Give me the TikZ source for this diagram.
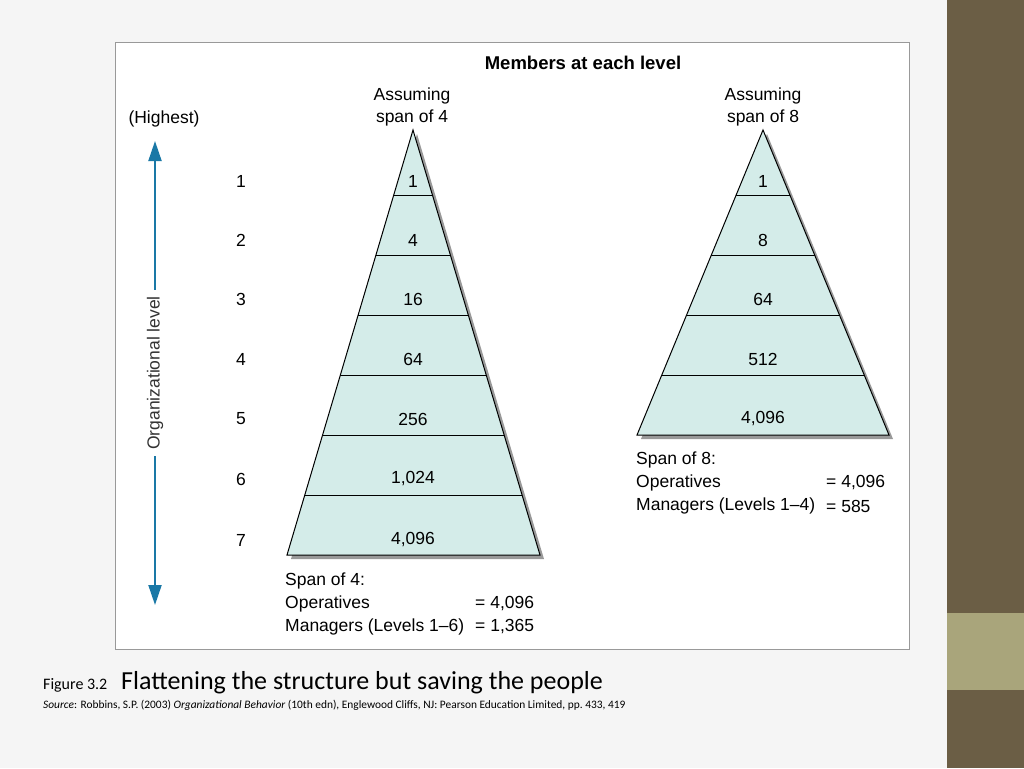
\documentclass[tikz,border=0pt]{standalone}
\usepackage{fontspec}
\setmainfont{Liberation Sans}
\newfontfamily\capfont{Carlito}
\usetikzlibrary{arrows.meta}
\definecolor{teal}{HTML}{D4ECE9}
\definecolor{arrowblue}{HTML}{1A78A6}
\definecolor{olive}{HTML}{6B5E45}
\definecolor{sage}{HTML}{A9A57B}
\tikzset{
  txt/.style={font=\fontsize{17.5}{20}\selectfont, inner sep=0pt},
  lvl/.style={txt, anchor=center},
  pyr/.style={fill=teal, draw=black, line width=1pt},
  shade/.style={fill=black!40, draw=none}
}
\begin{document}
\begin{tikzpicture}[x=1pt,y=-1pt]
  \useasboundingbox (0,0) rectangle (1024,768);
  \fill[black!4] (0,0) rectangle (947,768);
  \fill[olive] (947,0) rectangle (1024,613);
  \fill[sage] (947,613) rectangle (1024,690);
  \fill[olive] (947,690) rectangle (1024,768);
  \draw[fill=white, draw=black!40] (115,42) rectangle (909,649);

  % pyramids
  \fill[shade] (417,134) -- (544,559) -- (291,559) -- cycle;
  \fill[shade] (767,134) -- (893,439) -- (641,439) -- cycle;
  \draw[pyr] (413,130) -- (540,555) -- (287,555) -- cycle;
  \draw[pyr] (763,130) -- (889,435) -- (637,435) -- cycle;
  \begin{scope}
    \clip (413,130) -- (540,555) -- (287,555) -- cycle;
    \foreach \y in {195,255,315,375,435,495} \draw (280,\y) -- (550,\y);
  \end{scope}
  \begin{scope}
    \clip (763,130) -- (889,435) -- (637,435) -- cycle;
    \foreach \y in {195,255,315,375} \draw (630,\y) -- (900,\y);
  \end{scope}

  % headings
  \node[txt, font=\fontsize{18.5}{21}\selectfont\bfseries] (members) at (583,63) {Members at each level};
  \node[txt, align=center] (spanfour) at (412,107) {Assuming\\[2pt]span of 4};
  \node[txt, align=center] (spaneight) at (763,107) {Assuming\\[2pt]span of 8};
  \node[txt] (highest) at (164,119) {(Highest)};

  % level numbers and counts
  \foreach \n/\y/\a/\b in {1/181/1/1, 2/240/4/8, 3/299/16/64, 4/359/64/512, 5/419/256/{4,096}} {
    \node[lvl] (lvl\n) at (241,\y) {\n};
    \node[lvl] (four\n) at (413,\y) {\a};
    \node[lvl] (eight\n) at (763,\y) {\b};
  }
  \node[lvl] (lvl6) at (241,479) {6};
  \node[lvl] (four6) at (413,479) {1,024};
  \node[lvl] (lvl7) at (241,540) {7};
  \node[lvl] (four7) at (413,540) {4,096};

  % axis
  \node[txt, rotate=90, text=black!80] (axis) at (155,373) {Organizational level};
  \coordinate (top) at (155,141);
  \coordinate (bottom) at (155,605);
  \draw[arrowblue, line width=2pt, -{Triangle[length=20pt,width=13pt]}] (axis.east) ++(0,-6) -- (top);
  \draw[arrowblue, line width=2pt, -{Triangle[length=20pt,width=13pt]}] (axis.west) ++(0,6) -- (bottom);

  % summaries
  \node[txt, anchor=west] (sumfour) at (285,581) {Span of 4:};
  \node[txt, anchor=west] (opfour) at (285,604) {Operatives};
  \node[txt, anchor=west] (opfourval) at (475,604) {= 4,096};
  \node[txt, anchor=west] (mgfour) at (285,627) {Managers (Levels 1--6)};
  \node[txt, anchor=west] (mgfourval) at (475,627) {= 1,365};
  \node[txt, anchor=west] (sumeight) at (636,460) {Span of 8:};
  \node[txt, anchor=west] (opeight) at (636,483) {Operatives};
  \node[txt, anchor=west] (opeightval) at (826,483) {= 4,096};
  \node[txt, anchor=west] (mgeight) at (636,506) {Managers (Levels 1--4)};
  \node[txt, anchor=west] (mgeightval) at (826,506) {= 585};

  % caption
  \node[inner sep=0pt, anchor=base west, font=\capfont\fontsize{16}{18}\selectfont] (fig) at (43,689) {Figure 3.2};
  \node[inner sep=0pt, anchor=base west, font=\capfont\fontsize{26}{28}\selectfont] (title) at (121,689) {Flattening the structure but saving the people};
  \node[inner sep=0pt, anchor=base west, font=\capfont\fontsize{11.4}{13}\selectfont] (source) at (43,708)
    {\textit{Source}: Robbins, S.P. (2003) \textit{Organizational Behavior} (10th edn), Englewood Cliffs, NJ: Pearson Education Limited, pp.~433, 419};
\end{tikzpicture}
\end{document}
